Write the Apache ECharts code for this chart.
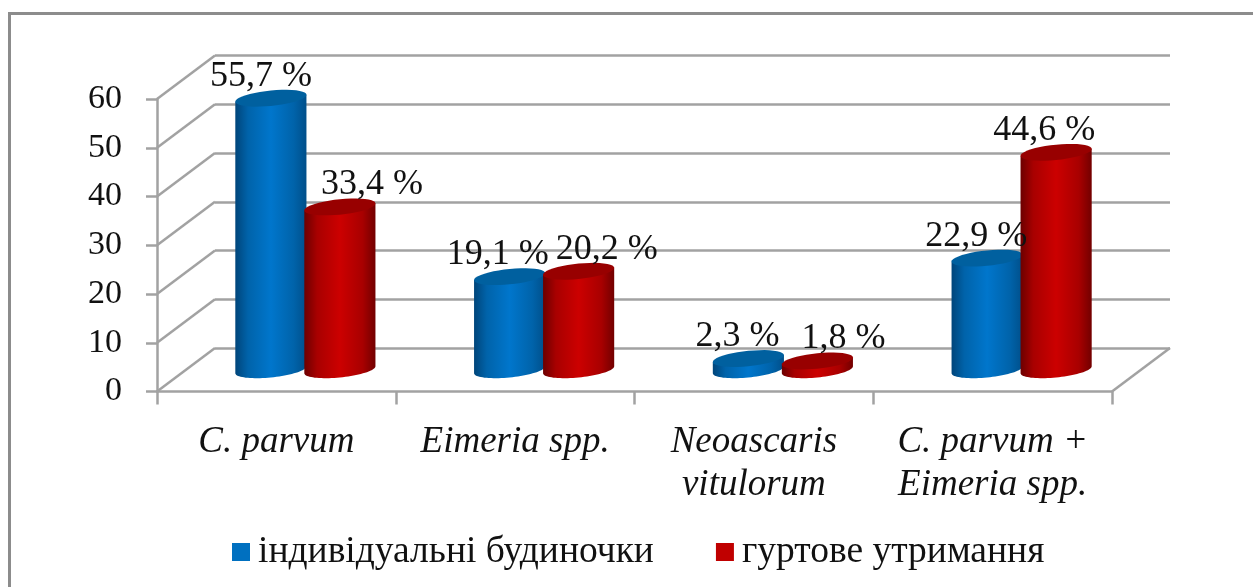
<!DOCTYPE html>
<html>
<head>
<meta charset="utf-8">
<style>
html,body{margin:0;padding:0;background:#fff;}
#chart{width:1253px;height:587px;}
</style>
<script src="https://cdn.jsdelivr.net/npm/echarts@6/dist/echarts.min.js"></script>
</head>
<body>
<div id="chart"></div>
<script>
var categories = ['C. parvum', 'Eimeria spp.', 'Neoascaris\nvitulorum', 'C. parvum +\nEimeria spp.'];
var individual = [55.7, 19.1, 2.3, 22.9];
var group = [33.4, 20.2, 1.8, 44.6];
var yTicks = [0, 10, 20, 30, 40, 50, 60];
var nameIndividual = 'індивідуальні будиночки';
var nameGroup = 'гуртове утримання';

// label shift from the bar centre, px
var labelShiftA = [-10, -12, -11, -11];
var labelShiftB = [32, 28, 26, -12];

var depthX = 58, depthY = 43.5;
var serif = '"Liberation Serif", serif';
var gridColor = '#a2a2a2';
var gridWidth = 2.5;

var chart = echarts.init(document.getElementById('chart'));

function ellipsePoints(cx, cy, rx, ry, slope, from, to) {
	var pts = [];
	for (var i = 0; i <= 40; i++) {
		var t = from + (to - from) * i / 40;
		var dx = rx * Math.cos(t);
		pts.push([cx + dx, cy + ry * Math.sin(t) - dx * slope]);
	}
	return pts;
}

function cylinder(side, colors, topColor) {
	return function (params, api) {
		var base = api.coord([api.value(0), 0]);
		var top = api.coord([api.value(0), api.value(1)]);
		var band = api.size([1, 0])[0];
		var rx = band * 0.149;
		var ry = 7.7, slope = 0.097;
		var cx = base[0] + depthX / 2 + side * band * 0.1445;
		var yb = base[1] - depthY / 2;
		var yt = top[1] - depthY / 2;
		var body = [[cx - rx, yt + rx * slope]]
			.concat(ellipsePoints(cx, yb, rx, ry, slope, Math.PI, 0))
			.concat([[cx + rx, yt - rx * slope]]);
		return {
			type: 'group',
			children: [{
				type: 'polygon',
				shape: { points: body },
				style: {
					fill: new echarts.graphic.LinearGradient(0, 0, 1, 0, [
						{ offset: 0, color: colors[0] },
						{ offset: 0.18, color: colors[1] },
						{ offset: 0.5, color: colors[2] },
						{ offset: 0.82, color: colors[1] },
						{ offset: 1, color: colors[3] }
					])
				}
			}, {
				type: 'polygon',
				shape: { points: ellipsePoints(cx, yt, rx, ry, slope, 0, Math.PI * 2) },
				style: { fill: topColor }
			}]
		};
	};
}

function barLabels(side, shifts) {
	return function (params, api) {
		var top = api.coord([api.value(0), api.value(1)]);
		var band = api.size([1, 0])[0];
		return {
			type: 'text',
			x: top[0] + depthX / 2 + side * band * 0.1445 + shifts[params.dataIndex],
			y: top[1] - depthY / 2 - 22,
			style: {
				text: api.value(1).toFixed(1).replace('.', ',') + ' %',
				font: '36px ' + serif,
				fill: '#111',
				align: 'center',
				verticalAlign: 'middle'
			}
		};
	};
}

function walls(params, api) {
	var x = params.coordSys.x;
	var y = api.coord([0, api.value(1)])[1];
	var line = { stroke: gridColor, lineWidth: gridWidth };
	var items = [{
		type: 'line',
		shape: { x1: x, y1: y, x2: x + depthX, y2: y - depthY },
		style: line
	}];
	if (api.value(1) === 0) {
		var xr = x + params.coordSys.width;
		items.push({
			type: 'line',
			shape: { x1: xr, y1: y, x2: xr + depthX, y2: y - depthY },
			style: line
		});
	}
	return { type: 'group', children: items };
}

function pairs(values) {
	return values.map(function (v, i) { return [i, v]; });
}

var option = {
	animation: false,
	backgroundColor: '#fff',
	graphic: [{
		type: 'polyline',
		silent: true,
		shape: { points: [[9.5, 587], [9.5, 13.5], [1253, 13.5]] },
		style: { stroke: '#8c8c8c', lineWidth: 3, fill: null }
	}],
	legend: {
		left: 232,
		top: 533,
		padding: 0,
		itemWidth: 18,
		itemHeight: 18,
		itemGap: 62,
		icon: 'rect',
		data: [nameIndividual, nameGroup],
		textStyle: { fontFamily: serif, fontSize: 37.5, color: '#111', padding: [12, 0, 0, 3] }
	},
	grid: [
		{ left: 157, top: 99, width: 955, height: 292.5 },
		{ left: 215, top: 55.5, width: 955, height: 292.5 }
	],
	xAxis: [{
		type: 'category',
		gridIndex: 0,
		data: categories,
		axisLine: { lineStyle: { color: gridColor, width: gridWidth } },
		axisTick: { show: true, length: 13, lineStyle: { color: gridColor, width: gridWidth } },
		axisLabel: {
			interval: 0,
			margin: 29,
			fontFamily: serif,
			fontStyle: 'italic',
			fontSize: 37,
			lineHeight: 43,
			color: '#111'
		}
	}, {
		type: 'category',
		gridIndex: 1,
		data: categories,
		show: false
	}],
	yAxis: [{
		type: 'value',
		gridIndex: 0,
		min: 0,
		max: 60,
		interval: 10,
		axisLine: { show: true, lineStyle: { color: gridColor, width: gridWidth } },
		axisTick: { show: true, length: 11, lineStyle: { color: gridColor, width: gridWidth } },
		splitLine: { show: false },
		axisLabel: {
			margin: 35,
			fontFamily: serif,
			fontSize: 34,
			color: '#111'
		}
	}, {
		type: 'value',
		gridIndex: 1,
		min: 0,
		max: 60,
		interval: 10,
		axisLine: { show: false },
		axisTick: { show: false },
		axisLabel: { show: false },
		splitLine: { show: true, lineStyle: { color: gridColor, width: gridWidth } }
	}],
	series: [{
		type: 'custom',
		name: 'walls',
		xAxisIndex: 0,
		yAxisIndex: 0,
		z: 1,
		silent: true,
		renderItem: walls,
		encode: { x: 0, y: 1 },
		data: pairs(yTicks).map(function (p) { return [0, p[1]]; })
	}, {
		type: 'custom',
		name: nameIndividual,
		xAxisIndex: 0,
		yAxisIndex: 0,
		z: 2,
		itemStyle: { color: '#0070c0' },
		renderItem: cylinder(-1, ['#00457a', '#0063aa', '#0076cc', '#004f8a'], '#00609f'),
		encode: { x: 0, y: 1 },
		data: pairs(individual)
	}, {
		type: 'custom',
		name: nameGroup,
		xAxisIndex: 0,
		yAxisIndex: 0,
		z: 3,
		itemStyle: { color: '#c00000' },
		renderItem: cylinder(1, ['#6c0000', '#a80000', '#cc0000', '#720000'], '#980000'),
		encode: { x: 0, y: 1 },
		data: pairs(group)
	}, {
		type: 'custom',
		name: 'labelsA',
		xAxisIndex: 0,
		yAxisIndex: 0,
		z: 5,
		silent: true,
		renderItem: barLabels(-1, labelShiftA),
		encode: { x: 0, y: 1 },
		data: pairs(individual)
	}, {
		type: 'custom',
		name: 'labelsB',
		xAxisIndex: 0,
		yAxisIndex: 0,
		z: 5,
		silent: true,
		renderItem: barLabels(1, labelShiftB),
		encode: { x: 0, y: 1 },
		data: pairs(group)
	}]
};

chart.setOption(option);
</script>
</body>
</html>
